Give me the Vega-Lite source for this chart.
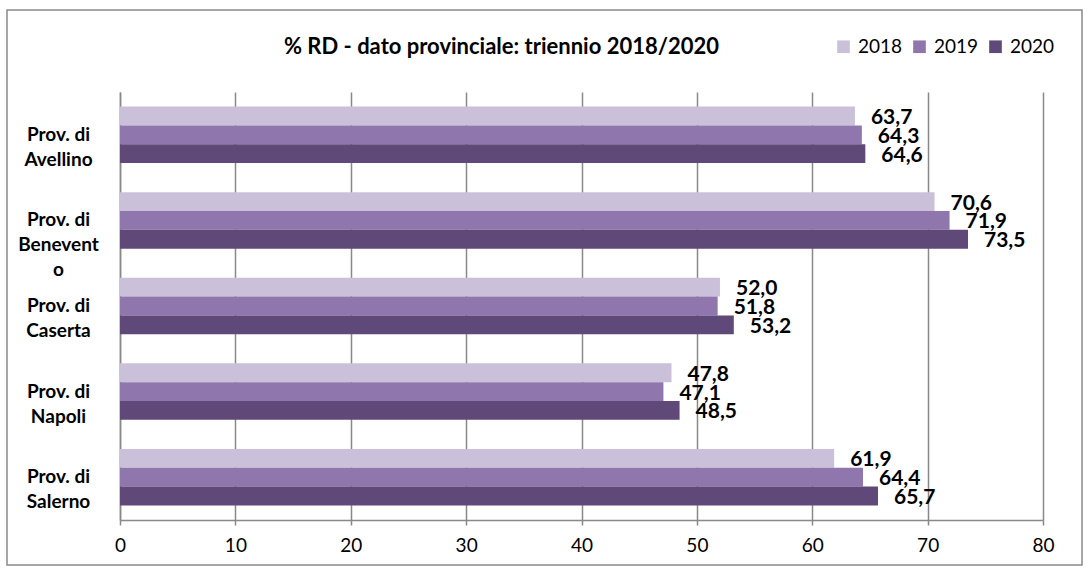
{
  "$schema": "https://vega.github.io/schema/vega-lite/v6.json",
  "width": 923,
  "height": 428,
  "autosize": {"type": "none"},
  "padding": {"left": 120, "top": 92, "right": 47, "bottom": 50},
  "background": "white",
  "title": {
    "text": "% RD - dato provinciale: triennio 2018/2020",
    "fontSize": 22,
    "fontWeight": "bold",
    "color": "black",
    "anchor": "middle",
    "dx": -80,
    "offset": -50
  },
  "layer": [
    {
      "data": {"values": [{"frame": "chart"}]},
      "mark": {"type": "rect", "fill": null, "stroke": "#898989", "strokeWidth": 1.5, "clip": false},
      "encoding": {
        "x": {"datum": 0, "type": "quantitative", "scale": {"domain": [0, 1], "range": [-113, 962]}, "axis": null},
        "x2": {"datum": 1},
        "y": {"datum": 0, "type": "quantitative", "scale": {"domain": [0, 1], "range": [-82, 473]}, "axis": null},
        "y2": {"datum": 1}
      }
    },
    {
      "data": {
        "values": [
          {"provincia": "Prov. di Avellino", "anno": "2018", "rd": 63.7},
          {"provincia": "Prov. di Avellino", "anno": "2019", "rd": 64.3},
          {"provincia": "Prov. di Avellino", "anno": "2020", "rd": 64.6},
          {"provincia": "Prov. di Benevento", "anno": "2018", "rd": 70.6},
          {"provincia": "Prov. di Benevento", "anno": "2019", "rd": 71.9},
          {"provincia": "Prov. di Benevento", "anno": "2020", "rd": 73.5},
          {"provincia": "Prov. di Caserta", "anno": "2018", "rd": 52.0},
          {"provincia": "Prov. di Caserta", "anno": "2019", "rd": 51.8},
          {"provincia": "Prov. di Caserta", "anno": "2020", "rd": 53.2},
          {"provincia": "Prov. di Napoli", "anno": "2018", "rd": 47.8},
          {"provincia": "Prov. di Napoli", "anno": "2019", "rd": 47.1},
          {"provincia": "Prov. di Napoli", "anno": "2020", "rd": 48.5},
          {"provincia": "Prov. di Salerno", "anno": "2018", "rd": 61.9},
          {"provincia": "Prov. di Salerno", "anno": "2019", "rd": 64.4},
          {"provincia": "Prov. di Salerno", "anno": "2020", "rd": 65.7}
        ]
      },
      "encoding": {
        "y": {
          "field": "provincia",
          "type": "nominal",
          "sort": null,
          "scale": {"paddingInner": 0.34, "paddingOuter": 0.17},
          "axis": {
            "title": null,
            "ticks": false,
            "domainColor": "#898989",
            "domainWidth": 1.5,
            "grid": false,
            "labelAlign": "center",
            "labelBaseline": "middle",
            "labelPadding": 62,
            "labelFontSize": 19,
            "labelFontWeight": "bold",
            "labelColor": "black",
            "labelLineHeight": 25,
            "labelLimit": 0,
            "labelExpr": "datum.value == 'Prov. di Benevento' ? ['Prov. di', 'Benevent', 'o'] : ['Prov. di', slice(datum.value, 9)]"
          }
        },
        "x": {
          "field": "rd",
          "type": "quantitative",
          "scale": {"domain": [0, 80], "nice": false},
          "axis": {
            "title": null,
            "values": [0, 10, 20, 30, 40, 50, 60, 70, 80],
            "tickSize": 5,
            "tickColor": "#898989",
            "tickWidth": 1.5,
            "domainColor": "#898989",
            "domainWidth": 1.5,
            "grid": true,
            "gridColor": "#898989",
            "gridWidth": 1.5,
            "labelFontSize": 19,
            "labelColor": "black",
            "labelPadding": 11,
            "labelFlush": false
          }
        },
        "yOffset": {"field": "anno", "type": "nominal", "sort": ["2018", "2019", "2020"], "scale": {"paddingInner": 0, "paddingOuter": 0}}
      },
      "layer": [
        {
          "mark": {"type": "bar"},
          "encoding": {
            "color": {
              "field": "anno",
              "type": "nominal",
              "scale": {"domain": ["2018", "2019", "2020"], "range": ["#CBC0DA", "#8F77AE", "#5F4978"]},
              "legend": {
                "title": null,
                "orient": "none",
                "direction": "horizontal",
                "legendX": 714,
                "legendY": -55,
                "padding": 0,
                "symbolType": "square",
                "symbolSize": 160,
                "symbolStrokeWidth": 0,
                "labelFontSize": 19,
                "labelColor": "black",
                "labelOffset": 5,
                "columnPadding": 7
              }
            }
          }
        },
        {
          "mark": {"type": "text", "align": "left", "baseline": "middle", "dx": 16, "dy": 2, "fontSize": 21, "fontWeight": "bold", "color": "black"},
          "encoding": {
            "text": {"field": "rd", "type": "quantitative", "format": ".1f"}
          }
        }
      ]
    }
  ],
  "resolve": {"scale": {"x": "independent", "y": "independent"}},
  "config": {
    "font": "Lato",
    "view": {"stroke": null},
    "locale": {
      "number": {"decimal": ",", "thousands": ".", "grouping": [3], "currency": ["", " €"]}
    }
  }
}
